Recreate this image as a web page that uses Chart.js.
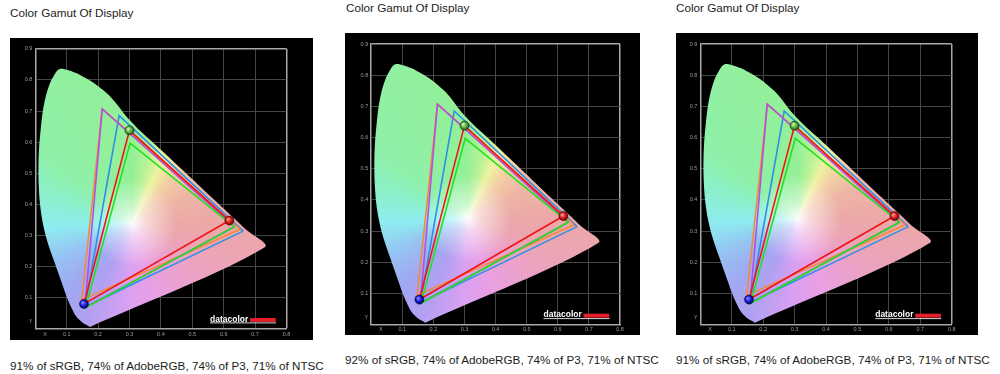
<!DOCTYPE html>
<html><head><meta charset="utf-8">
<script src="https://cdn.jsdelivr.net/npm/chart.js@4.4.1/dist/chart.umd.min.js"></script>
<style>
html,body{margin:0;padding:0;background:#fff;width:1000px;height:374px;overflow:hidden;position:relative;}
.t{position:absolute;font-family:"Liberation Sans",Arial,sans-serif;font-size:11.7px;color:#1c1c1c;white-space:nowrap;line-height:1;}
.box{position:absolute;background:#000;}
canvas{display:block;}
</style></head><body>
<script>
// ---------- data ----------
const PANEL_TITLES = ['Color Gamut Of Display', 'Color Gamut Of Display', 'Color Gamut Of Display'];
const PANEL_RESULTS = [
  '91% of sRGB, 74% of AdobeRGB, 74% of P3, 71% of NTSC',
  '92% of sRGB, 74% of AdobeRGB, 74% of P3, 71% of NTSC',
  '91% of sRGB, 74% of AdobeRGB, 74% of P3, 71% of NTSC'
];
const X_TICK_VALUES = [0.031, 0.1, 0.2, 0.3, 0.4, 0.5, 0.6, 0.7, 0.8];
const X_TICK_LABELS = ['X', '0.1', '0.2', '0.3', '0.4', '0.5', '0.6', '0.7', '0.8'];
const Y_TICK_VALUES = [0.023, 0.1, 0.2, 0.3, 0.4, 0.5, 0.6, 0.7, 0.8, 0.9];
const Y_TICK_LABELS = ['Y', '0.1', '0.2', '0.3', '0.4', '0.5', '0.6', '0.7', '0.8', '0.9'];

// spectral locus outline as drawn in the picture (bottom tip -> left side -> peak -> right side -> red tip)
const LOCUS_X = [0.174,0.150,0.130,0.114,0.101,0.087,0.073,0.059,0.045,0.033,0.022,0.015,0.011,0.010,0.012,0.017,0.024,0.034,0.047,0.060,0.070,0.080,0.100,0.130,0.160,0.190,0.215,0.240,0.265,0.290,0.325,0.380,0.480,0.580,0.672,0.731];
const LOCUS_Y = [0.006,0.020,0.040,0.070,0.100,0.140,0.180,0.220,0.260,0.300,0.350,0.400,0.460,0.520,0.580,0.640,0.700,0.750,0.790,0.815,0.830,0.836,0.833,0.822,0.806,0.788,0.768,0.745,0.715,0.682,0.645,0.594,0.500,0.405,0.318,0.262];
const WHITE_POINT = [0.31, 0.34];

// gamut triangles: R, G, B corners
const MEASURED_X = [0.618, 0.300, 0.155];
const MEASURED_Y = [0.348, 0.638, 0.080];
const SRGB_X = [0.634, 0.302, 0.160];
const SRGB_Y = [0.328, 0.597, 0.068];
const ADOBE_X = [0.634, 0.213, 0.158];
const ADOBE_Y = [0.328, 0.707, 0.068];
const NTSC_X = [0.652, 0.213, 0.148];
const NTSC_Y = [0.320, 0.707, 0.093];
const P3_X = [0.662, 0.267, 0.158];
const P3_Y = [0.314, 0.685, 0.070];

// ---------- styles / layout ----------
const PANEL_BOX = [[10,38,303,302],[345,33,295,302],[676,33,302,302]];
const PANEL_PLOT = [[35.3,48.8,286.5,328.8],[371.2,44,620,324.5],[700.3,44,951.7,324.5]];
const TITLE_POS = [[10,6.8],[346,2],[676,2]];
const NOTE_POS = [[10,359.5],[345,354],[676,354]];
const HUE_STOPS = [0, 0.05, 0.12, 0.20, 0.26, 0.32, 0.37, 0.43, 0.49, 0.54, 0.60, 0.75, 0.79, 0.82, 0.86, 0.92, 1];
const HUE_COLORS = ['rgb(236,168,168)','rgb(236,165,178)','rgb(236,162,200)','rgb(232,160,228)','rgb(218,160,242)','rgb(178,160,242)','rgb(160,168,242)','rgb(150,195,242)','rgb(142,235,240)','rgb(140,240,210)','rgb(142,240,170)','rgb(148,240,150)','rgb(190,242,152)','rgb(238,242,160)','rgb(242,208,165)','rgb(238,182,165)','rgb(236,168,168)'];
const BALL_COLORS = [
  ['#ff9a9a','#d41818','#5a0000'],
  ['#c8f8b0','#58a838','#1c4010'],
  ['#8a8aff','#1818d0','#000050']
];
const GRID = '#464646', BORDER = '#a8a8a8';
const Y_AXIS_W = 14, X_AXIS_H = 10;

Chart.defaults.font.family = "'Liberation Sans', Arial, sans-serif";

function pts(xs, ys, close) {
  const d = xs.map((x, i) => ({x: x, y: ys[i]}));
  if (close) d.push({x: xs[0], y: ys[0]});
  return d;
}
function pix(ch, x, y) {
  if (!ch.chartArea || !ch.scales || !ch.scales.x || !ch.scales.y) return null;
  const px = ch.scales.x.getPixelForValue(x), py = ch.scales.y.getPixelForValue(y);
  if (!isFinite(px) || !isFinite(py)) return null;
  return [px, py];
}
function conicFill(c) {
  const p = pix(c.chart, WHITE_POINT[0], WHITE_POINT[1]);
  if (!p) return HUE_COLORS[11];
  const g = c.chart.ctx.createConicGradient(0, p[0], p[1]);
  HUE_STOPS.forEach((s, i) => g.addColorStop(s, HUE_COLORS[i]));
  return g;
}
function whiteFill(c) {
  const p = pix(c.chart, WHITE_POINT[0], WHITE_POINT[1]);
  if (!p) return 'rgba(255,255,255,0)';
  const g = c.chart.ctx.createRadialGradient(p[0], p[1], 0, p[0], p[1], 44);
  g.addColorStop(0, 'rgba(255,255,255,0.95)');
  g.addColorStop(0.3, 'rgba(255,255,255,0.55)');
  g.addColorStop(1, 'rgba(255,255,255,0)');
  return g;
}
function ballFill(c) {
  const cols = BALL_COLORS[c.dataIndex] || BALL_COLORS[0];
  if (c.type !== 'data' || !c.raw) return cols[1];
  const p = pix(c.chart, c.raw.x, c.raw.y);
  if (!p) return cols[1];
  const g = c.chart.ctx.createRadialGradient(p[0] - 1.5, p[1] - 1.5, 0.3, p[0], p[1], 5);
  g.addColorStop(0, cols[0]); g.addColorStop(0.55, cols[1]); g.addColorStop(1, cols[2]);
  return g;
}
function tri(xs, ys, color, order) {
  return {data: pts(xs, ys, true), showLine: true, borderColor: color, borderWidth: 1.6,
          pointRadius: 0, fill: false, order: order, borderJoinStyle: 'miter'};
}

const logoPlugin = {
  id: 'logo',
  afterDatasetsDraw(chart) {
    const {ctx, chartArea: a} = chart;
    ctx.save();
    ctx.fillStyle = '#d8d8d8';
    ctx.fillRect(a.right - 76.5, a.bottom - 6.4, 66, 1);
    ctx.fillStyle = '#e5202a';
    ctx.fillRect(a.right - 36.5, a.bottom - 10.8, 25.7, 3.9);
    ctx.fillStyle = '#ffffff';
    ctx.font = "bold 8.5px 'Liberation Sans', Arial, sans-serif";
    ctx.textBaseline = 'alphabetic';
    ctx.fillText('datacolor', a.right - 76.5, a.bottom - 7.2);
    ctx.restore();
  }
};

function gridColor(c, axisMax) {
  if (!c.tick) return GRID;
  if (c.index === 0) return 'rgba(0,0,0,0)';
  if (c.tick.value >= axisMax - 1e-9) return BORDER;
  return GRID;
}
function gridWidth(c, axisMax) {
  return c.tick && c.tick.value >= axisMax - 1e-9 ? 1.5 : 1;
}

function addText(cls, txt, pos) {
  const d = document.createElement('div');
  d.className = cls; d.textContent = txt;
  d.style.left = pos[0] + 'px'; d.style.top = pos[1] + 'px';
  document.body.appendChild(d);
}

function buildPanel(i) {
  addText('t', PANEL_TITLES[i], TITLE_POS[i]);
  addText('t', PANEL_RESULTS[i], NOTE_POS[i]);
  const [bx, by, bw, bh] = PANEL_BOX[i];
  const [pl, pt, pr, pb] = PANEL_PLOT[i];
  const wrap = document.createElement('div');
  wrap.className = 'box';
  wrap.style.left = bx + 'px'; wrap.style.top = by + 'px';
  wrap.style.width = bw + 'px'; wrap.style.height = bh + 'px';
  const cv = document.createElement('canvas');
  cv.width = bw; cv.height = bh; cv.style.width = bw + 'px'; cv.style.height = bh + 'px';
  wrap.appendChild(cv); document.body.appendChild(wrap);

  const tickFont = {size: 5.5};
  new Chart(cv, {
    type: 'scatter',
    data: {datasets: [
      {data: pts(LOCUS_X, LOCUS_Y, true), showLine: true, borderWidth: 0, borderColor: 'rgba(0,0,0,0)',
       pointRadius: 0, fill: 'shape', backgroundColor: conicFill, order: 11, tension: 0.3},
      {data: pts(LOCUS_X, LOCUS_Y, true), showLine: true, borderWidth: 0, borderColor: 'rgba(0,0,0,0)',
       pointRadius: 0, fill: 'shape', backgroundColor: whiteFill, order: 10, tension: 0.3},
      tri(P3_X, P3_Y, '#2f8fe6', 6),
      tri(NTSC_X, NTSC_Y, '#f5893a', 5),
      tri(ADOBE_X, ADOBE_Y, '#b04fe0', 4),
      tri(SRGB_X, SRGB_Y, '#22e022', 3),
      tri(MEASURED_X, MEASURED_Y, '#f01414', 2),
      {data: pts(MEASURED_X, MEASURED_Y, false), showLine: false, pointRadius: 4.6,
       pointBackgroundColor: ballFill, pointBorderColor: 'rgba(0,0,0,0.55)', pointBorderWidth: 0.6, order: 1}
    ]},
    options: {
      responsive: false, animation: false, devicePixelRatio: 1,
      layout: {padding: {left: (pl - bx) - Y_AXIS_W, top: pt - by, right: (bx + bw) - pr, bottom: (by + bh) - pb - X_AXIS_H}},
      plugins: {legend: {display: false}, tooltip: {enabled: false}},
      events: [],
      scales: {
        x: {
          type: 'linear', min: 0, max: 0.8,
          afterBuildTicks: s => { s.ticks = X_TICK_VALUES.map(v => ({value: v})); },
          afterFit: s => { s.height = X_AXIS_H; },
          ticks: {autoSkip: false, maxRotation: 0, padding: 2, color: '#9c9c9c', font: tickFont,
                  callback: (v, idx) => X_TICK_LABELS[idx]},
          grid: {drawTicks: false, color: c => gridColor(c, 0.8), lineWidth: c => gridWidth(c, 0.8)},
          border: {display: true, color: BORDER, width: 1.5}
        },
        y: {
          type: 'linear', min: 0, max: 0.9,
          afterBuildTicks: s => { s.ticks = Y_TICK_VALUES.map(v => ({value: v})); },
          afterFit: s => { s.width = Y_AXIS_W; },
          ticks: {autoSkip: false, padding: 3, color: '#9c9c9c', font: tickFont,
                  callback: (v, idx) => Y_TICK_LABELS[idx]},
          grid: {drawTicks: false, color: c => gridColor(c, 0.9), lineWidth: c => gridWidth(c, 0.9)},
          border: {display: true, color: BORDER, width: 1.5}
        }
      }
    },
    plugins: [logoPlugin]
  });
}
for (let i = 0; i < 3; i++) buildPanel(i);
</script>
</body></html>
